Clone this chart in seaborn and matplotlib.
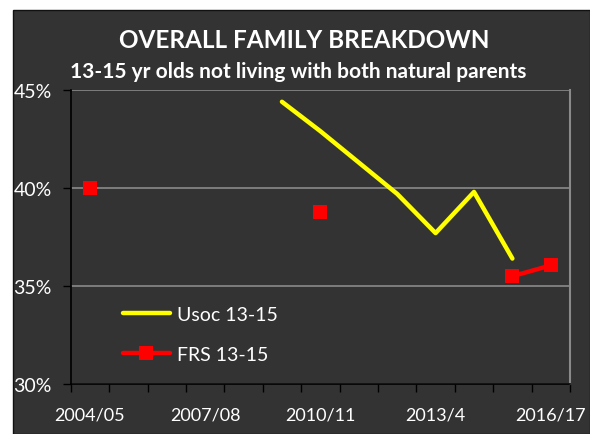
import numpy as np
import pandas as pd
import seaborn as sns
import matplotlib.pyplot as plt
from matplotlib.patches import Rectangle

years = ['2004/05', '2005/06', '2006/07', '2007/08', '2008/09', '2009/10', '2010/11',
         '2011/12', '2012/13', '2013/4', '2014/15', '2015/16', '2016/17']
usoc = [np.nan, np.nan, np.nan, np.nan, np.nan, 44.4, 42.9, 41.3, 39.7, 37.7, 39.8, 36.4, np.nan]
frs = [40.0, np.nan, np.nan, np.nan, np.nan, np.nan, 38.8, np.nan, np.nan, np.nan, np.nan, 35.5, 36.05]
label_years = ['2004/05', '2007/08', '2010/11', '2013/4', '2016/17']

bg = '#333333'
sns.set_theme(style='dark')
plt.rcParams['font.family'] = ['Lato', 'DejaVu Sans']

df = pd.DataFrame({'year': years, 'pos': range(len(years)), 'usoc': usoc, 'frs': frs})
# segment ids so gaps in FRS are not joined up
df['seg'] = df['frs'].isna().cumsum()
frs_df = df.dropna(subset=['frs'])
usoc_df = df.dropna(subset=['usoc'])

fig = plt.figure(figsize=(5.9, 4.35), dpi=100)
fig.patch.set_facecolor('white')
fig.patches.append(Rectangle((13 / 590, 0), 1 - 13 / 590, 1 - 11 / 435, transform=fig.transFigure,
                             facecolor=bg, edgecolor='#111111', linewidth=1, zorder=-1))
ax = fig.add_axes([70.7 / 590, 50 / 435, (570 - 70.7) / 590, (385 - 91) / 435])
ax.set_facecolor(bg)

sns.lineplot(data=usoc_df, x='pos', y='usoc', color='#ffff00', linewidth=3.2,
             label='Usoc 13-15', ax=ax)
sns.lineplot(data=frs_df, x='pos', y='frs', units='seg', estimator=None, color='#ff0000',
             linewidth=3.2, marker='s', markersize=10.5, markeredgewidth=0,
             label='FRS 13-15', ax=ax)

ax.set_xlim(-0.5, len(years) - 0.5)
ax.set_ylim(30, 45)
ax.set_yticks([30, 35, 40, 45])
ax.set_yticklabels([f'{v}%' for v in [30, 35, 40, 45]])
ax.set_xticks(np.arange(-0.5, len(years)), labels=[])
ax.set_xticks([years.index(y) for y in label_years], labels=label_years, minor=True)
ax.set_xlabel('')
ax.set_ylabel('')

ax.grid(axis='y', color='#8a8a8a', linewidth=1.2)
ax.grid(axis='x', visible=False)
for s in ['left', 'bottom']:
    ax.spines[s].set_color('black')
    ax.spines[s].set_linewidth(1.2)
ax.spines['top'].set_visible(False)
ax.spines['right'].set_color('#8a8a8a')
ax.spines['right'].set_linewidth(1.5)

ax.tick_params(axis='y', which='major', left=True, length=6, width=1, color='black',
               labelcolor='white', labelsize=14, pad=7.5)
ax.tick_params(axis='x', which='major', bottom=True, length=6, width=1, color='black')
ax.tick_params(axis='x', which='minor', bottom=False, length=0, labelcolor='white',
               labelsize=13, pad=16.5)

handles, labels = ax.get_legend_handles_labels()
uniq = dict(zip(labels, handles))
leg = ax.legend(uniq.values(), uniq.keys(), loc='upper left', bbox_to_anchor=(0.07, 0.325),
                frameon=False, fontsize=14, labelcolor='white', handlelength=2.4,
                handletextpad=0.35, labelspacing=1.2)

fig.text(0.515, 0.908, 'OVERALL FAMILY BREAKDOWN', ha='center', va='center', color='white',
         fontsize=17.5, fontweight='bold')
fig.text(0.505, 0.834, '13-15 yr olds not living with both natural parents', ha='center',
         va='center', color='white', fontsize=15, fontweight='bold')

fig.savefig('out.png', dpi=100, facecolor=fig.get_facecolor())
